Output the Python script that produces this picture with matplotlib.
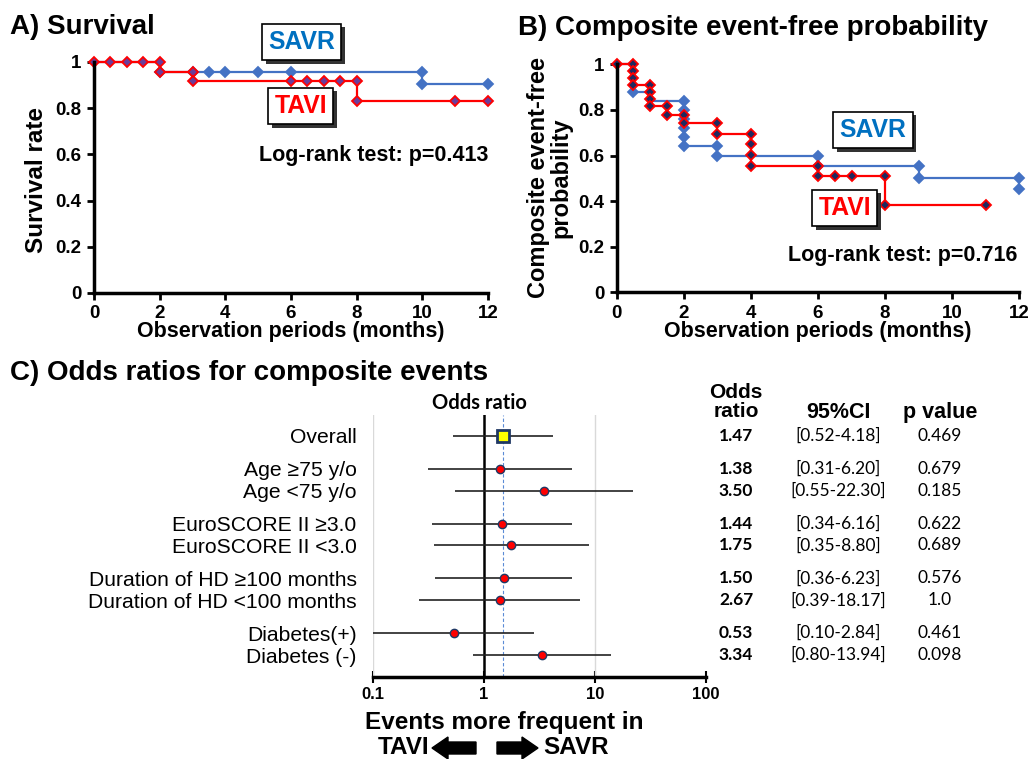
import matplotlib
matplotlib.use("Agg")
from matplotlib import pyplot as plt
from matplotlib import transforms as mtransforms
from matplotlib import patheffects as pe
from matplotlib.patches import FancyArrow

plt.rcParams['font.family'] = ['Liberation Sans', 'DejaVu Sans']

# --- A) survival (Kaplan-Meier) ---
savr_a_t = [0, 2, 10, 12]
savr_a_s = [1.0, 0.957, 0.904, 0.904]
savr_a_mt = [2, 3, 3.5, 4, 5, 6, 10, 10, 12]
savr_a_ms = [0.957, 0.957, 0.957, 0.957, 0.957, 0.957, 0.957, 0.904, 0.904]

tavi_a_t = [0, 2, 3, 8, 12]
tavi_a_s = [1.0, 0.958, 0.917, 0.833, 0.833]
tavi_a_mt = [0, 0.5, 1, 1.5, 2, 2, 3, 3, 6, 6.5, 7, 7.5, 8, 8, 11, 12]
tavi_a_ms = [1, 1, 1, 1, 1, 0.958, 0.958, 0.917, 0.917, 0.917, 0.917, 0.917,
             0.917, 0.833, 0.833, 0.833]

# --- B) composite event-free ---
savr_b_t = [0, 0.5, 1, 2, 3, 6, 9, 12]
savr_b_s = [1.0, 0.880, 0.840, 0.640, 0.598, 0.553, 0.500, 0.452]
savr_b_mt = [0.5, 2, 2, 2, 2, 2, 2, 3, 3, 6, 6, 9, 9, 12, 12]
savr_b_ms = [0.880, 0.840, 0.800, 0.762, 0.719, 0.681, 0.640, 0.640, 0.598,
             0.598, 0.553, 0.553, 0.500, 0.500, 0.452]

tavi_b_t = [0, 0.5, 1, 1.5, 2, 3, 4, 6, 8, 11]
tavi_b_s = [1.0, 0.908, 0.817, 0.779, 0.741, 0.694, 0.556, 0.510, 0.383, 0.383]
tavi_b_mt = [0, 0.5, 0.5, 0.5, 0.5, 1, 1, 1, 1, 1.5, 1.5, 2, 2, 3, 3, 4, 4, 4, 4,
             6, 6, 6.5, 7, 8, 8, 11]
tavi_b_ms = [1.0, 1.0, 0.969, 0.939, 0.908, 0.908, 0.878, 0.848, 0.817, 0.817,
             0.779, 0.779, 0.741, 0.741, 0.694, 0.694, 0.649, 0.602, 0.556,
             0.556, 0.510, 0.510, 0.510, 0.510, 0.383, 0.383]

# --- C) forest plot ---
labels = ["Overall", "Age \u226575 y/o", "Age <75 y/o", "EuroSCORE II \u22653.0",
          "EuroSCORE II <3.0", "Duration of HD \u2265100 months",
          "Duration of HD <100 months", "Diabetes(+)", "Diabetes (-)"]
groups = [0, 1, 1, 2, 2, 3, 3, 4, 4]
or_plot = [1.47, 1.38, 3.50, 1.44, 1.75, 1.50, 1.38, 0.53, 3.34]
lo_plot = [0.52, 0.31, 0.55, 0.34, 0.35, 0.36, 0.26, 0.10, 0.80]
hi_plot = [4.18, 6.20, 22.30, 6.16, 8.80, 6.23, 7.30, 2.84, 13.94]
or_txt = ["1.47", "1.38", "3.50", "1.44", "1.75", "1.50", "2.67", "0.53", "3.34"]
ci_txt = ["[0.52-4.18]", "[0.31-6.20]", "[0.55-22.30]", "[0.34-6.16]", "[0.35-8.80]",
          "[0.36-6.23]", "[0.39-18.17]", "[0.10-2.84]", "[0.80-13.94]"]
p_txt = ["0.469", "0.679", "0.185", "0.622", "0.689", "0.576", "1.0", "0.461", "0.098"]

BLUE = '#4472C4'
RED = '#FF0000'
W, H = 1033, 759
LATO = ['Lato', 'DejaVu Sans']


def fx(x):
    return x / W


def fy(y):
    return 1 - y / H


fig = plt.figure(figsize=(W / 100, H / 100), dpi=100)


def km_axes(left, right, top, bottom):
    ax = fig.add_axes([fx(left), fy(bottom), (right - left) / W, (bottom - top) / H])
    ax.set_xlim(0, 12)
    ax.set_ylim(0, 1)
    ax.spines['top'].set_visible(False)
    ax.spines['right'].set_visible(False)
    ax.spines['left'].set_linewidth(2.5)
    ax.spines['bottom'].set_linewidth(2.5)
    ax.set_xticks(range(0, 13, 2))
    ax.set_yticks([0, 0.2, 0.4, 0.6, 0.8, 1])
    ax.set_yticklabels(['0', '0.2', '0.4', '0.6', '0.8', '1'])
    ax.tick_params(direction='out', length=5, width=2, labelsize=13.5, pad=4)
    for lbl in ax.get_xticklabels() + ax.get_yticklabels():
        lbl.set_fontweight('bold')
    return ax


def km(ax, t, s, mt, ms, color, mfc):
    ax.step(t, s, where='post', color=color, lw=1.6, clip_on=False)
    ax.plot(mt, ms, ls='none', marker='D', ms=5, mfc=mfc, mec=color, mew=1.3,
            clip_on=False)


def tag(ax, x, y, s, color):
    t = ax.text(x, y, s, color=color, fontsize=17.8, weight='bold', ha='center',
                va='center', bbox=dict(boxstyle='square,pad=0.25', fc='white',
                                       ec='black', lw=1.2))
    t.get_bbox_patch().set_path_effects([
        pe.SimplePatchShadow(offset=(2.5, -2.5), shadow_rgbFace='#333333', alpha=1),
        pe.Normal()])


# A
axa = km_axes(94, 488, 62, 293)
km(axa, savr_a_t, savr_a_s, savr_a_mt, savr_a_ms, BLUE, BLUE)
km(axa, tavi_a_t, tavi_a_s, tavi_a_mt, tavi_a_ms, RED, '#6A3D9A')
tag(axa, 6.33, 1.087, 'SAVR', '#0070C0')
tag(axa, 6.3, 0.81, 'TAVI', RED)
axa.text(12, 0.597, 'Log-rank test: p=0.413', ha='right', va='center',
         fontsize=15.5, weight='bold')
fig.text(fx(10), fy(27), 'A) Survival', fontsize=20, weight='bold', va='center')
fig.text(fx(37), fy(180), 'Survival rate', fontsize=17.5, weight='bold',
         rotation=90, ha='center', va='center')
fig.text(fx(291), fy(331), 'Observation periods (months)', fontsize=15.5,
         weight='bold', ha='center', va='center')

# B
axb = km_axes(616.7, 1019.3, 64.3, 292.3)
km(axb, savr_b_t, savr_b_s, savr_b_mt, savr_b_ms, BLUE, BLUE)
km(axb, tavi_b_t, tavi_b_s, tavi_b_mt, tavi_b_ms, RED, '#1F2A60')
tag(axb, 7.64, 0.712, 'SAVR', '#0070C0')
tag(axb, 6.8, 0.37, 'TAVI', RED)
axb.text(11.95, 0.16, 'Log-rank test: p=0.716', ha='right', va='center',
         fontsize=15.5, weight='bold')
fig.text(fx(518), fy(28), 'B) Composite event-free probability', fontsize=20,
         weight='bold', va='center')
fig.text(fx(550), fy(178), 'Composite event-free\nprobability', fontsize=17,
         weight='bold', rotation=90, ha='center', va='center',
         multialignment='center', linespacing=0.95)
fig.text(fx(818), fy(331), 'Observation periods (months)', fontsize=15.5,
         weight='bold', ha='center', va='center')

# C
fig.text(fx(10), fy(373), 'C) Odds ratios for composite events', fontsize=20,
         weight='bold', va='center')
axf = fig.add_axes([fx(373.3), fy(677), (705.7 - 373.3) / W, (677 - 415) / H])
axf.set_xscale('log')
axf.set_xlim(0.1, 100)
axf.set_ylim(11, -0.95)
pos = [i + 0.5 * g for i, g in enumerate(groups)]
for s in ['top', 'right', 'left']:
    axf.spines[s].set_visible(False)
axf.spines['bottom'].set_linewidth(2.5)
axf.axvline(0.1, color='#D9D9D9', lw=1)
axf.axvline(10, color='#D9D9D9', lw=1)
axf.axvline(1, color='black', lw=1.8)
axf.axvline(or_plot[0], color='#5B8BD6', lw=0.8, ls=(0, (3, 2)))
axf.hlines(pos, lo_plot, hi_plot, color='#222222', lw=1.2)
axf.plot(or_plot[0], pos[0], ls='none', marker='s', ms=9, mfc='#FFFF00',
         mec='#1F3864', mew=2, zorder=4)
axf.plot(or_plot[1:], pos[1:], ls='none', marker='o', ms=6, mfc=RED,
         mec='#1F3864', mew=1, zorder=4)
axf.set_xticks([0.1, 1, 10, 100])
axf.set_xticklabels(['0.1', '1', '10', '100'])
axf.minorticks_off()
axf.tick_params(axis='x', direction='inout', length=8, width=1.5, labelsize=12,
                pad=3)
for lbl in axf.get_xticklabels():
    lbl.set_fontweight('bold')
axf.set_yticks(pos)
axf.set_yticklabels(labels, fontsize=15.2)
axf.tick_params(axis='y', length=0, pad=12)

fig.text(fx(479), fy(403), 'Odds ratio', fontsize=14.5, weight='bold',
         family=LATO, ha='center', va='center')

tr = mtransforms.blended_transform_factory(fig.transFigure, axf.transData)
for y, a, b, c in zip(pos, or_txt, ci_txt, p_txt):
    axf.text(fx(736), y, a, transform=tr, ha='center', va='center', fontsize=12.5,
             weight='bold', family=LATO)
    axf.text(fx(838), y, b, transform=tr, ha='center', va='center', fontsize=12.5,
             family=LATO)
    axf.text(fx(940), y, c, transform=tr, ha='center', va='center', fontsize=12.5,
             family=LATO)

fig.text(fx(736), fy(402), 'Odds\nratio', fontsize=15, weight='bold',
         ha='center', va='center', linespacing=1.0)
fig.text(fx(838), fy(412), '95%CI', fontsize=15.5, weight='bold',
         ha='center', va='center')
fig.text(fx(940), fy(412), 'p value', fontsize=15.5, weight='bold',
         ha='center', va='center')

fig.text(fx(504), fy(722), 'Events more frequent in', fontsize=17.5,
         weight='bold', ha='center', va='center')
fig.text(fx(429), fy(748), 'TAVI', fontsize=17.5, weight='bold', ha='right',
         va='center')
fig.text(fx(543), fy(748), 'SAVR', fontsize=17.5, weight='bold', ha='left',
         va='center')
ident = mtransforms.IdentityTransform()
fig.patches.append(FancyArrow(476, H - 748, -44, 0, width=12, head_width=22,
                              head_length=16, length_includes_head=True,
                              color='black', transform=ident, figure=fig))
fig.patches.append(FancyArrow(497, H - 748, 41, 0, width=12, head_width=22,
                              head_length=16, length_includes_head=True,
                              color='black', transform=ident, figure=fig))

fig.savefig('out.png', dpi=100)
